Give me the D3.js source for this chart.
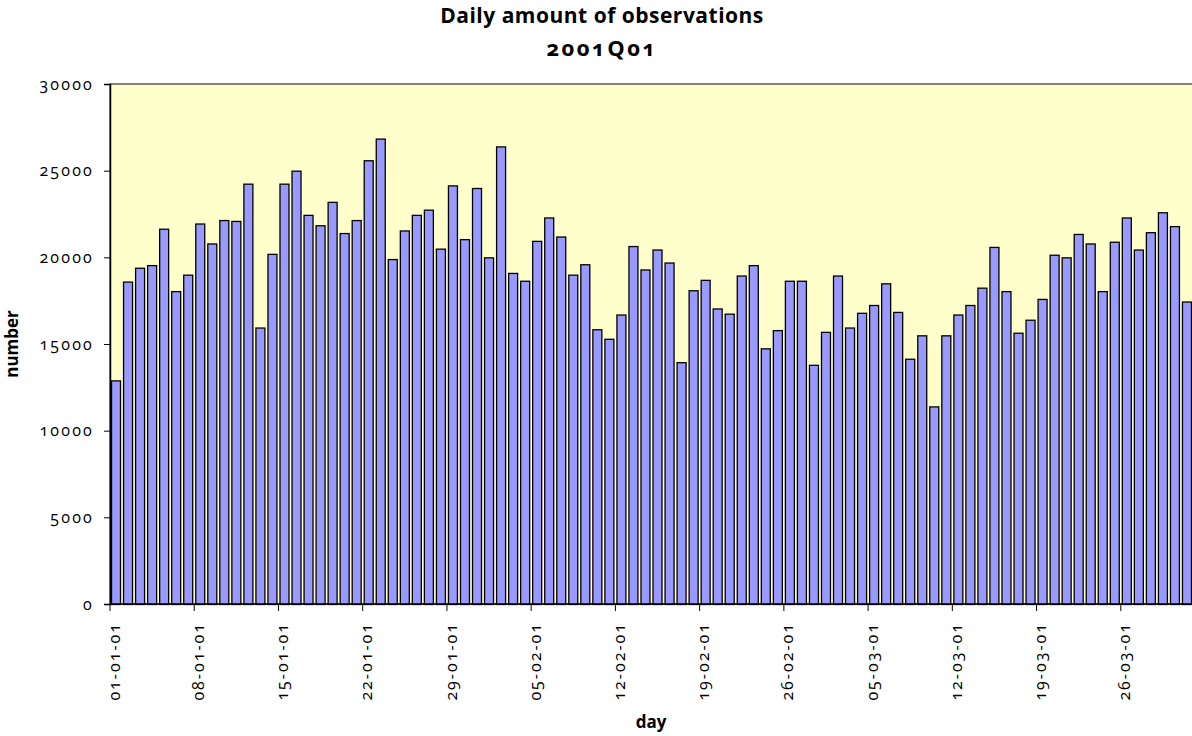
<!DOCTYPE html>
<meta charset="utf-8">
<body style="margin:0;background:#fff">
<script src="https://d3js.org/d3.v7.min.js"></script>
<div id="chart"></div>
<style>
  text { font-family: "Open Sans", Lato, sans-serif; font-variant-numeric: oldstyle-nums; }
</style>
<script>

// first day of the quarter, one bar per day
var startDay = new Date(2001, 0, 1)
var days = d3.timeDay.range(startDay, new Date(2001, 3, 1))

// daily number of observations, 01-01-01 .. 31-03-01
var counts = [
  12900, 18600, 19400, 19550, 21650, 18050, 19000, 21950, 20800, 22150,
  22100, 24250, 15950, 20200, 24250, 25000, 22450, 21850, 23200, 21400,
  22150, 25600, 26850, 19900, 21550, 22450, 22750, 20500, 24150, 21050,
  24000, 20000, 26400, 19100, 18650, 20950, 22300, 21200, 19000, 19600,
  15850, 15300, 16700, 20650, 19300, 20450, 19700, 13950, 18100, 18700,
  17050, 16750, 18950, 19550, 14750, 15800, 18650, 18650, 13800, 15700,
  18950, 15950, 16800, 17250, 18500, 16850, 14150, 15500, 11400, 15500,
  16700, 17250, 18250, 20600, 18050, 15650, 16400, 17600, 20150, 20000,
  21350, 20800, 18050, 20900, 22300, 20450, 21450, 22600, 21800, 17450
]

var yTicks = [0, 5000, 10000, 15000, 20000, 25000, 30000]

var data = days.map(function(d, i) { return {day: d, value: counts[i]} })

var margin = {top: 84, right: 0, bottom: 132, left: 110},
    width = 1192 - margin.left - margin.right + 1,
    height = 736 - margin.top - margin.bottom

var svg = d3.select("#chart")
  .append("svg")
    .attr("width", 1192)
    .attr("height", 736)

var g = svg.append("g")
    .attr("transform", "translate(" + margin.left + "," + margin.top + ")")

var fmt = d3.timeFormat("%d-%m-%y")

// X scale
var x = d3.scaleBand()
  .domain(days)
  .range([0, width])
  .paddingInner(0.17)
  .paddingOuter(0.085)

// Y scale
var y = d3.scaleLinear()
  .domain([0, 30000])
  .range([height, 0])

// plot background
g.append("rect")
  .attr("width", width + 10)
  .attr("height", height)
  .style("fill", "#FFFFCC")
  .style("stroke", "#333")
  .style("stroke-width", 1.2)

// bars
g.selectAll(".bar")
  .data(data)
  .join("rect")
    .attr("class", "bar")
    .attr("x", function(d) { return x(d.day) + 0.5 })
    .attr("y", function(d) { return y(d.value) + 0.5 })
    .attr("width", x.bandwidth() - 1)
    .attr("height", function(d) { return height - y(d.value) })
    .style("fill", "#9999FF")
    .style("stroke", "#000")
    .style("stroke-width", 1.3)

// Y axis
var yAxis = g.append("g")
  .call(d3.axisLeft(y).tickValues(yTicks).tickSize(6).tickPadding(10)
    .tickFormat(function(d) { return d }))
yAxis.select(".domain").style("stroke", "#000").style("stroke-width", 1.5)
yAxis.selectAll("text")
  .style("font-family", "'Open Sans', sans-serif")
  .style("font-size", "16px").style("letter-spacing", "2.2px").style("fill", "#000")

// X axis: ticks between days, every 7 days, label centered on day
var edge = function(d) { return x(d) - (x.step() - x.bandwidth()) / 2 }
var weekly = days.filter(function(d, i) { return i % 7 === 0 })

var xAxis = g.append("g")
  .attr("transform", "translate(0," + height + ")")
xAxis.append("line")
  .attr("x1", 0).attr("x2", width + 10)
  .style("stroke", "#000").style("stroke-width", 1.5)
xAxis.selectAll(".tick")
  .data(weekly)
  .join("line")
    .attr("class", "tick")
    .attr("x1", edge).attr("x2", edge)
    .attr("y1", 0).attr("y2", 7)
    .style("stroke", "#000")
xAxis.selectAll(".lbl")
  .data(weekly)
  .join("text")
    .attr("class", "lbl")
    .attr("transform", function(d) { return "translate(" + (edge(d) + 4) + ",18) rotate(-90)" })
    .attr("dy", "0.35em")
    .attr("text-anchor", "end")
    .style("font-size", "16px")
    .style("letter-spacing", "2px")
    .text(fmt)

// titles
svg.append("text")
  .attr("x", 602).attr("y", 23)
  .attr("text-anchor", "middle")
  .style("font-size", "21px").style("font-weight", "bold")
  .style("letter-spacing", "0.5px")
  .text("Daily amount of observations")
svg.append("text")
  .attr("x", 602).attr("y", 56)
  .attr("text-anchor", "middle")
  .style("font-size", "22px").style("font-weight", "bold")
  .style("letter-spacing", "2.5px")
  .text("2001Q01")

svg.append("text")
  .attr("x", 651).attr("y", 728)
  .attr("text-anchor", "middle")
  .style("font-size", "17px").style("font-weight", "bold")
  .text("day")

svg.append("text")
  .attr("transform", "translate(18,344) rotate(-90)")
  .attr("text-anchor", "middle")
  .style("font-size", "17px").style("font-weight", "bold")
  .text("number")

</script>
</body>
